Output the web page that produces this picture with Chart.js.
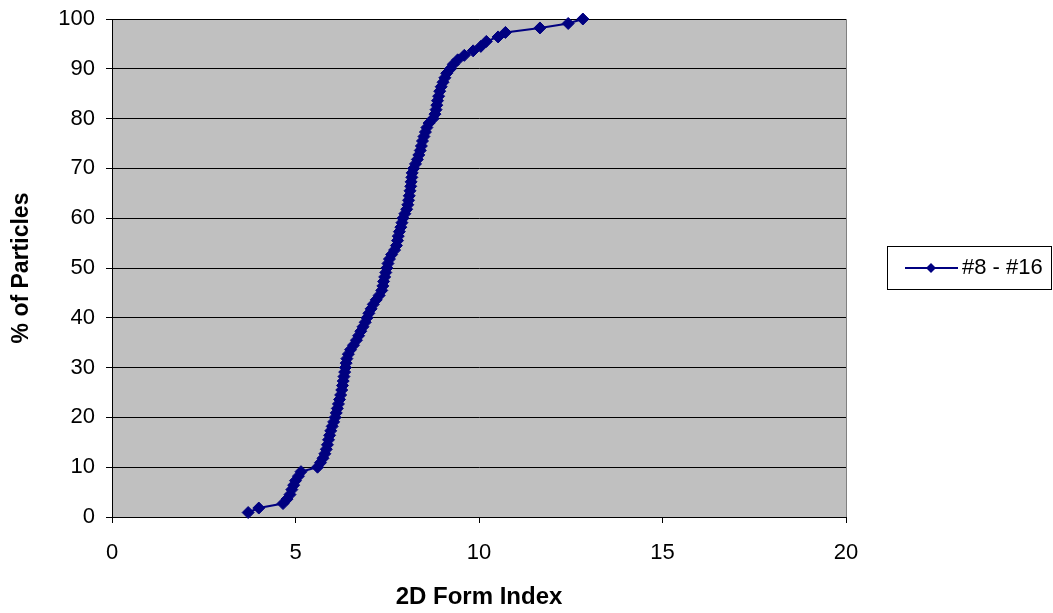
<!DOCTYPE html>
<html>
<head>
<meta charset="utf-8">
<script src="https://cdn.jsdelivr.net/npm/chart.js@4/dist/chart.umd.min.js"></script>
<style>
  html, body { margin: 0; padding: 0; background: #fff; }
  #wrap { width: 1053px; height: 613px; position: relative; }
</style>
</head>
<body>
<div id="wrap"><canvas id="chart"></canvas></div>
<script>
const seriesLabel = "#8 - #16";
const xTitle = "2D Form Index";
const yTitle = "% of Particles";

// form index per particle (sorted)
const formIndex = [
  3.71, 4.0, 4.66, 4.77, 4.85, 4.9, 4.95, 5.0, 5.08, 5.15,
  5.6, 5.68, 5.75, 5.8, 5.84, 5.87, 5.9, 5.93, 5.96, 6.0,
  6.04, 6.08, 6.11, 6.14, 6.17, 6.2, 6.23, 6.26, 6.28, 6.3,
  6.32, 6.34, 6.36, 6.38, 6.4, 6.44, 6.5, 6.58, 6.66, 6.72,
  6.78, 6.84, 6.9, 6.95, 7.0, 7.06, 7.12, 7.2, 7.28, 7.35,
  7.38, 7.4, 7.43, 7.46, 7.49, 7.52, 7.56, 7.62, 7.7, 7.75,
  7.78, 7.8, 7.83, 7.87, 7.9, 7.93, 7.98, 8.03, 8.06, 8.08,
  8.1, 8.12, 8.14, 8.15, 8.17, 8.18, 8.22, 8.27, 8.32, 8.36,
  8.4, 8.43, 8.46, 8.5, 8.54, 8.58, 8.64, 8.75, 8.8, 8.83,
  8.85, 8.87, 8.9, 8.93, 8.97, 9.02, 9.07, 9.12, 9.22, 9.3,
  9.42, 9.6, 9.84, 10.05, 10.2, 10.52, 10.72, 11.66, 12.43, 12.83
];

// cumulative % of particles
const cumPercent = [
  0.9, 1.8, 2.7, 3.6, 4.5, 5.5, 6.4, 7.3, 8.2, 9.1,
  10.0, 10.9, 11.8, 12.7, 13.6, 14.5, 15.5, 16.4, 17.3, 18.2,
  19.1, 20.0, 20.9, 21.8, 22.7, 23.6, 24.5, 25.5, 26.4, 27.3,
  28.2, 29.1, 30.0, 30.9, 31.8, 32.7, 33.6, 34.5, 35.5, 36.4,
  37.3, 38.2, 39.1, 40.0, 40.9, 41.8, 42.7, 43.6, 44.5, 45.5,
  46.4, 47.3, 48.2, 49.1, 50.0, 50.9, 51.8, 52.7, 53.6, 54.5,
  55.5, 56.4, 57.3, 58.2, 59.1, 60.0, 60.9, 61.8, 62.7, 63.6,
  64.5, 65.5, 66.4, 67.3, 68.2, 69.1, 70.0, 70.9, 71.8, 72.7,
  73.6, 74.5, 75.5, 76.4, 77.3, 78.2, 79.1, 80.0, 80.9, 81.8,
  82.7, 83.6, 84.5, 85.5, 86.4, 87.3, 88.2, 89.1, 90.0, 90.9,
  91.8, 92.7, 93.6, 94.5, 95.5, 96.4, 97.3, 98.2, 99.1, 100.0
];

const navy = "#000080";
const font = "'Liberation Sans', Arial, sans-serif";

const plotBackground = {
  id: "plotBackground",
  beforeDraw(chart) {
    const { ctx, chartArea: a } = chart;
    ctx.save();
    ctx.fillStyle = "#c0c0c0";
    ctx.fillRect(a.left, a.top, a.width, a.height);
    ctx.strokeStyle = "#808080";
    ctx.lineWidth = 1;
    ctx.strokeRect(a.left + 0.5, a.top + 0.5, a.width, a.height);
    ctx.restore();
  },
};

const boxLegend = {
  id: "boxLegend",
  afterDraw(chart) {
    const { ctx } = chart;
    ctx.save();
    ctx.strokeStyle = "#000";
    ctx.lineWidth = 1;
    ctx.strokeRect(887.5, 246.5, 164, 43);
    ctx.strokeStyle = navy;
    ctx.lineWidth = 2;
    ctx.beginPath();
    ctx.moveTo(905, 268);
    ctx.lineTo(958, 268);
    ctx.stroke();
    ctx.fillStyle = navy;
    ctx.beginPath();
    ctx.moveTo(931, 263);
    ctx.lineTo(936, 268);
    ctx.lineTo(931, 273);
    ctx.lineTo(926, 268);
    ctx.closePath();
    ctx.fill();
    ctx.fillStyle = "#000";
    ctx.font = "22px " + font;
    ctx.textBaseline = "middle";
    ctx.fillText(seriesLabel, 962, 268);
    ctx.restore();
  },
};

new Chart(document.getElementById("chart"), {
  type: "scatter",
  data: {
    datasets: [
      {
        label: seriesLabel,
        data: formIndex.map((x, i) => ({ x, y: cumPercent[i] })),
        showLine: true,
        clip: false,
        borderColor: navy,
        backgroundColor: navy,
        borderWidth: 2,
        pointStyle: "rectRot",
        pointRadius: 6,
        pointBorderWidth: 1,
        pointHoverRadius: 6,
      },
    ],
  },
  options: {
    responsive: true,
    maintainAspectRatio: false,
    animation: false,
    layout: { padding: { top: 19, right: 207, bottom: 0, left: 0 } },
    plugins: { legend: { display: false }, tooltip: { enabled: false } },
    scales: {
      x: {
        type: "linear",
        min: 0,
        max: 20,
        afterFit: (scale) => { scale.height = 96; scale.paddingLeft = 0; scale.paddingRight = 0; },
        ticks: { stepSize: 5, color: "#000", font: { family: font, size: 22 }, padding: 17, maxRotation: 0 },
        grid: { drawOnChartArea: false, drawTicks: true, tickLength: 6, color: "#000" },
        border: { color: "#000" },
        title: { display: true, text: xTitle, color: "#000", font: { family: font, size: 24, weight: "bold" }, padding: { top: 0, bottom: 1 } },
      },
      y: {
        min: 0,
        max: 100,
        afterFit: (scale) => { scale.width = 112; scale.paddingTop = 0; scale.paddingBottom = 0; },
        ticks: { stepSize: 10, color: "#000", font: { family: font, size: 22 }, padding: 11 },
        grid: { color: "#000", tickLength: 6, tickColor: "#000" },
        border: { color: "#000" },
        title: { display: true, text: yTitle, color: "#000", font: { family: font, size: 23, weight: "bold" }, padding: { top: 8, bottom: 0 } },
      },
    },
  },
  plugins: [plotBackground, boxLegend],
});
</script>
</body>
</html>
